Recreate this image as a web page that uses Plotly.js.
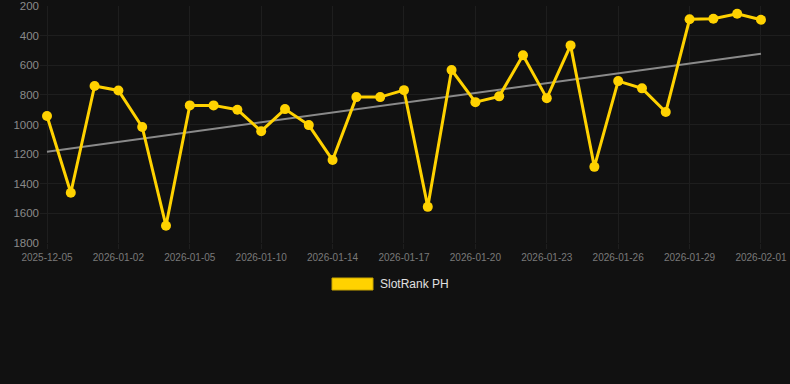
<!DOCTYPE html>
<html>
<head>
<meta charset="utf-8">
<script src="https://cdn.plot.ly/plotly-3.0.1.min.js"></script>
<style>
  html, body { margin: 0; padding: 0; background: #111111; }
  #chart { width: 790px; height: 384px; }
</style>
</head>
<body>
<div id="chart"></div>
<script>
const dates = [
  "2025-12-05", "2025-12-20", "2025-12-30",
  "2026-01-02", "2026-01-03", "2026-01-04",
  "2026-01-05", "2026-01-07", "2026-01-08",
  "2026-01-10", "2026-01-11", "2026-01-12",
  "2026-01-14", "2026-01-15", "2026-01-16",
  "2026-01-17", "2026-01-18", "2026-01-19",
  "2026-01-20", "2026-01-21", "2026-01-22",
  "2026-01-23", "2026-01-24", "2026-01-25",
  "2026-01-26", "2026-01-27", "2026-01-28",
  "2026-01-29", "2026-01-30", "2026-01-31",
  "2026-02-01"
];
const ranks = [
  943, 1461, 740, 770, 1017, 1684, 871, 871, 900, 1045,
  896, 1004, 1240, 815, 815, 768, 1556, 632, 849, 810,
  533, 822, 466, 1286, 707, 756, 916, 290, 286, 252,
  293
];
const tickDates = [
  "2025-12-05", "2026-01-02", "2026-01-05", "2026-01-10", "2026-01-14",
  "2026-01-17", "2026-01-20", "2026-01-23", "2026-01-26", "2026-01-29",
  "2026-02-01"
];
const trendDates = ["2025-12-05", "2026-02-01"];
const trendValues = [1184, 522];
const seriesName = "SlotRank PH";

const gridColor = "#1e1e1e";
const yellow = "#FFD200";

const traces = [
  {
    x: trendDates, y: trendValues, type: "scatter", mode: "lines",
    line: { color: "#8a8a8a", width: 2 }, hoverinfo: "skip", showlegend: false
  },
  {
    x: dates, y: ranks, type: "scatter", mode: "lines+markers", name: seriesName,
    line: { color: yellow, width: 3 },
    marker: { color: yellow, size: 10 },
    showlegend: false
  }
];

const layout = {
  width: 790, height: 384,
  paper_bgcolor: "#111111", plot_bgcolor: "#111111",
  margin: { l: 40, r: 0, t: 6, b: 141 },
  font: { family: "Liberation Sans, Arial, sans-serif" },
  showlegend: false,
  xaxis: {
    type: "category",
    categoryorder: "array", categoryarray: dates,
    range: [-0.294, 31.22],
    tickmode: "array", tickvals: tickDates, ticktext: tickDates,
    tickangle: 0,
    showgrid: true, gridcolor: gridColor, gridwidth: 1,
    zeroline: false, showline: false,
    ticks: "outside", ticklen: 5, tickcolor: gridColor,
    tickfont: { size: 10, color: "#7a7a7a" }
  },
  yaxis: {
    range: [1800, 200],
    tickvals: [200, 400, 600, 800, 1000, 1200, 1400, 1600, 1800],
    showgrid: true, gridcolor: gridColor, gridwidth: 1,
    zeroline: false, showline: false,
    ticks: "",
    tickfont: { size: 11.5, color: "#8a8a8a" }
  },
  shapes: [
    {
      type: "rect", xref: "paper", yref: "paper",
      x0: (332 - 40) / 750, x1: (373 - 40) / 750,
      y0: (243 - 278) / 237, y1: (243 - 290) / 237,
      fillcolor: yellow, line: { color: "#c9a600", width: 1 }
    }
  ],
  annotations: [
    {
      xref: "paper", yref: "paper",
      x: (378 - 40) / 750, y: (243 - 284) / 237,
      xanchor: "left", yanchor: "middle",
      text: seriesName, showarrow: false,
      font: { size: 12, color: "#e0e0e0" }
    }
  ]
};

Plotly.newPlot("chart", traces, layout, { displayModeBar: false, staticPlot: true });
</script>
</body>
</html>
